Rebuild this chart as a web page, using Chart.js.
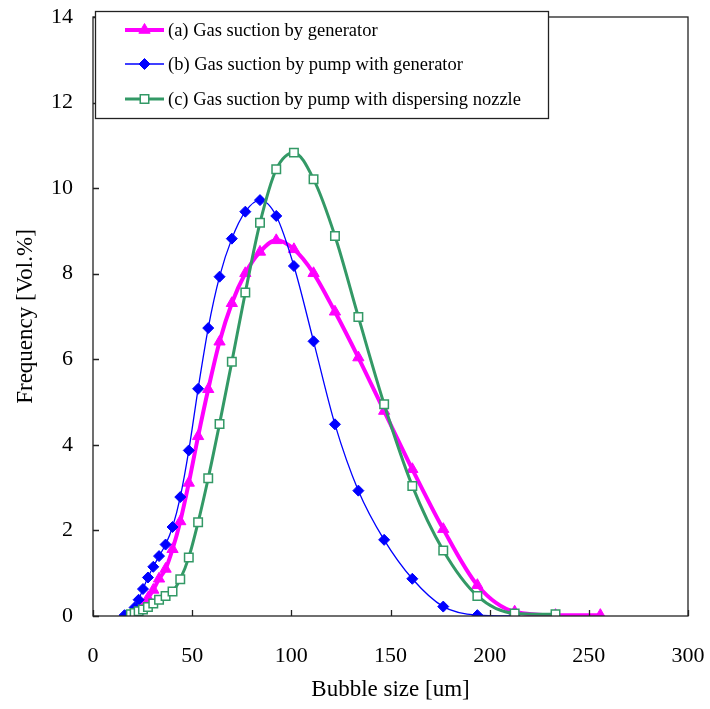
<!DOCTYPE html>
<html>
<head>
<meta charset="utf-8">
<script src="https://cdn.jsdelivr.net/npm/chart.js@4/dist/chart.umd.min.js"></script>
<style>
  html, body { margin: 0; padding: 0; background: #fff; }
  #wrap { width: 710px; height: 709px; }
</style>
</head>
<body>
<div id="wrap"><canvas id="c" width="710" height="709"></canvas></div>
<script>
// ---- data ----
const seriesNames = [
  "(a) Gas suction by generator",
  "(b) Gas suction by pump with generator",
  "(c) Gas suction by pump with dispersing nozzle"
];
const sizesA = [21.0, 23.0, 25.2, 27.7, 30.4, 33.3, 36.6, 40.1, 44.0, 48.3, 53.0, 58.1, 63.8, 70.0, 76.8, 84.2, 92.4, 101.3, 111.2, 122.0, 133.8, 146.8, 161.0, 176.6, 193.8, 212.6, 233.2, 255.8];
const freqA  = [0.02, 0.12, 0.25, 0.42, 0.61, 0.87, 1.10, 1.56, 2.21, 3.11, 4.20, 5.30, 6.41, 7.31, 8.01, 8.51, 8.78, 8.57, 8.01, 7.11, 6.04, 4.79, 3.43, 2.03, 0.72, 0.10, 0.02, 0.02];

const sizesB = [15.9, 21.0, 23.0, 25.2, 27.7, 30.4, 33.3, 36.6, 40.1, 44.0, 48.3, 53.0, 58.1, 63.8, 70.0, 76.8, 84.2, 92.4, 101.3, 111.2, 122.0, 133.8, 146.8, 161.0, 176.6, 193.8, 212.6];
const freqB  = [0.02, 0.20, 0.38, 0.63, 0.90, 1.15, 1.40, 1.67, 2.08, 2.78, 3.87, 5.31, 6.73, 7.93, 8.82, 9.45, 9.72, 9.35, 8.18, 6.42, 4.48, 2.93, 1.78, 0.87, 0.22, 0.02, 0.00];

const sizesC = [19.1, 21.0, 23.0, 25.2, 27.7, 30.4, 33.3, 36.6, 40.1, 44.0, 48.3, 53.0, 58.1, 63.8, 70.0, 76.8, 84.2, 92.4, 101.3, 111.2, 122.0, 133.8, 146.8, 161.0, 176.6, 193.8, 212.6, 233.2];
const freqC  = [0.04, 0.07, 0.11, 0.15, 0.21, 0.29, 0.38, 0.47, 0.57, 0.86, 1.37, 2.19, 3.22, 4.49, 5.94, 7.56, 9.19, 10.44, 10.83, 10.21, 8.88, 6.99, 4.95, 3.04, 1.53, 0.47, 0.06, 0.04];

const xTicks = [0, 50, 100, 150, 200, 250, 300];
const yTicks = [0, 2, 4, 6, 8, 10, 12, 14];
const xTitle = "Bubble size [um]";
const yTitle = "Frequency [Vol.%]";

// ---- build ----
const toPts = (xs, ys) => xs.map((x, i) => ({ x: x, y: ys[i] }));
const FONT = '"Liberation Serif", "Times New Roman", serif';

const styles = [
  { color: '#FF00FF', width: 4, point: 'triangle', radius: 6.5, fill: '#FF00FF', pbw: 1 },
  { color: '#0000FF', width: 1.3, point: 'rectRot', radius: 5.5, fill: '#0000FF', pbw: 1 },
  { color: '#339966', width: 3, point: 'rect', radius: 6, fill: '#FFFFFF', pbw: 1.5 }
];
const dataSets = [toPts(sizesA, freqA), toPts(sizesB, freqB), toPts(sizesC, freqC)];

const datasets = dataSets.map((d, i) => ({
  label: seriesNames[i],
  data: d,
  borderColor: styles[i].color,
  borderWidth: styles[i].width,
  pointStyle: styles[i].point,
  pointRadius: styles[i].radius,
  pointHoverRadius: styles[i].radius,
  pointBackgroundColor: styles[i].fill,
  pointBorderColor: styles[i].color,
  pointBorderWidth: styles[i].pbw,
  cubicInterpolationMode: 'monotone',
  fill: false,
  order: 3 - i
}));

function drawMarker(ctx, style, x, y, r) {
  ctx.beginPath();
  if (style === 'triangle') {
    ctx.moveTo(x, y - r);
    ctx.lineTo(x + r * 0.866, y + r * 0.5);
    ctx.lineTo(x - r * 0.866, y + r * 0.5);
    ctx.closePath();
  } else if (style === 'rectRot') {
    ctx.moveTo(x, y - r); ctx.lineTo(x + r, y); ctx.lineTo(x, y + r); ctx.lineTo(x - r, y);
    ctx.closePath();
  } else {
    const s = r * Math.SQRT1_2;
    ctx.rect(x - s, y - s, 2 * s, 2 * s);
  }
  ctx.fill();
  ctx.stroke();
}

const framePlugin = {
  id: 'frameTicks',
  afterDatasetsDraw(chart) {
    const { ctx, chartArea: a, scales } = chart;
    ctx.save();
    ctx.strokeStyle = '#222';
    ctx.lineWidth = 1.3;
    ctx.strokeRect(a.left, a.top, a.right - a.left, a.bottom - a.top);
    ctx.beginPath();
    xTicks.forEach(v => {
      const px = Math.round(scales.x.getPixelForValue(v)) + 0.5;
      ctx.moveTo(px, a.bottom); ctx.lineTo(px, a.bottom - 6);
    });
    yTicks.forEach(v => {
      const py = Math.round(scales.y.getPixelForValue(v)) + 0.5;
      ctx.moveTo(a.left, py); ctx.lineTo(a.left + 6, py);
    });
    ctx.stroke();

    // legend box
    const bx = 95.5, by = 11.5, bw = 453, bh = 107;
    ctx.fillStyle = '#fff';
    ctx.fillRect(bx, by, bw, bh);
    ctx.strokeStyle = '#222';
    ctx.lineWidth = 1.3;
    ctx.strokeRect(bx, by, bw, bh);
    const rows = [30, 64, 99];
    chart.data.datasets.forEach((ds, i) => {
      const y = rows[i];
      ctx.strokeStyle = ds.borderColor;
      ctx.lineWidth = ds.borderWidth;
      ctx.beginPath(); ctx.moveTo(125, y); ctx.lineTo(164, y); ctx.stroke();
      ctx.fillStyle = ds.pointBackgroundColor;
      ctx.strokeStyle = ds.pointBorderColor;
      ctx.lineWidth = ds.pointBorderWidth;
      drawMarker(ctx, ds.pointStyle, 144.5, y, ds.pointRadius);
      ctx.fillStyle = '#000';
      ctx.font = '18.5px ' + FONT;
      ctx.textBaseline = 'middle';
      ctx.textAlign = 'left';
      ctx.fillText(ds.label, 168, y + 1);
    });
    ctx.restore();
  }
};

new Chart(document.getElementById('c'), {
  type: 'line',
  data: { datasets: datasets },
  options: {
    responsive: false,
    animation: false,
    devicePixelRatio: 1,
    layout: { padding: { top: 17, right: 22, bottom: 0, left: 0 } },
    plugins: { legend: { display: false }, tooltip: { enabled: false } },
    scales: {
      x: {
        type: 'linear', min: 0, max: 300,
        afterBuildTicks: s => { s.ticks = xTicks.map(v => ({ value: v })); },
        afterFit: s => { s.height = 93; s.paddingLeft = 0; s.paddingRight = 0; },
        grid: { display: false, drawTicks: false },
        border: { display: false },
        ticks: { color: '#000', font: { family: FONT, size: 22 }, padding: 27, maxRotation: 0 },
        title: { display: true, text: xTitle, color: '#000', font: { family: FONT, size: 23 }, padding: { top: 0, bottom: 5 } }
      },
      y: {
        type: 'linear', min: 0, max: 14,
        afterBuildTicks: s => { s.ticks = yTicks.map(v => ({ value: v })); },
        afterFit: s => { s.width = 93; s.paddingTop = 0; s.paddingBottom = 0; },
        grid: { display: false, drawTicks: false },
        border: { display: false },
        ticks: { color: '#000', font: { family: FONT, size: 22 }, padding: 20 },
        title: { display: true, text: yTitle, color: '#000', font: { family: FONT, size: 23 }, padding: { top: 12, bottom: 0 } }
      }
    }
  },
  plugins: [framePlugin]
});
</script>
</body>
</html>
